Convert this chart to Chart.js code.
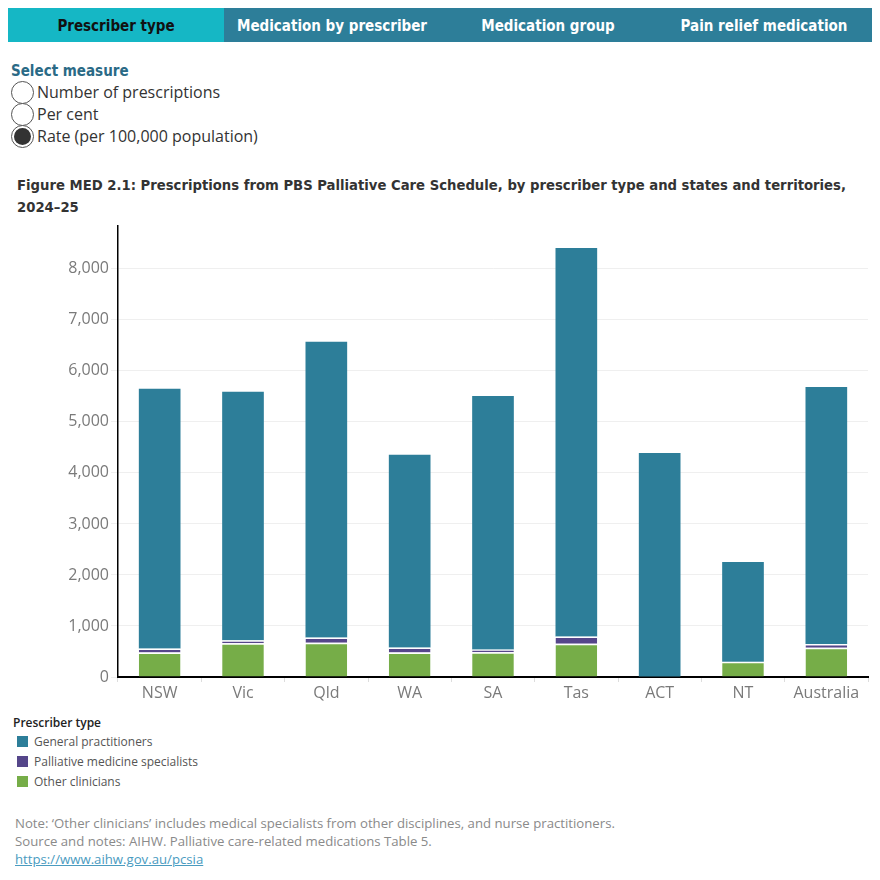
<!DOCTYPE html>
<html>
<head>
<meta charset="utf-8">
<script src="https://cdn.jsdelivr.net/npm/chart.js@4.4.1/dist/chart.umd.min.js"></script>
<style>
    body { margin: 0; width: 880px; height: 880px; background: #fff; position: relative; font-family: "Open Sans", sans-serif; overflow: hidden; }
    .tabs { position: absolute; left: 8px; top: 8px; width: 864px; height: 34px; display: flex; }
    .tab { width: 216px; height: 34px; line-height: 36px; text-align: center; background: #2d7e99; color: #fff;
           font-family: "DejaVu Sans Condensed", sans-serif; font-weight: bold; font-size: 15px; }
    .tab.on { background: #15b7c5; color: #111; }
    .measure { position: absolute; left: 11px; top: 61px; }
    .measure h4 { margin: 0; font-family: "DejaVu Sans Condensed", sans-serif; font-weight: bold; font-size: 15px; color: #2a6a86; line-height: 20px; }
    .opt { height: 22px; line-height: 22px; font-size: 16px; color: #333; position: relative; padding-left: 26px; }
    .opt i { position: absolute; left: 0; top: 0; width: 23px; height: 23px; border: 1px solid #555; border-radius: 50%; box-sizing: border-box; background: #fff; }
    .opt.sel i::after { content: ""; position: absolute; left: 2px; top: 2px; width: 17px; height: 17px; border-radius: 50%; background: #333; }
    .title { position: absolute; left: 17px; top: 174px; width: 860px; font-family: "DejaVu Sans Condensed", sans-serif; font-weight: bold;
             font-size: 14.7px; line-height: 22px; color: #333; }
    #wrap { position: absolute; left: 0; top: 220px; width: 880px; height: 490px; }
    .legend { position: absolute; left: 13px; top: 714px; font-size: 12px; color: #555; }
    .legend b { display: block; font-size: 12px; color: #222; font-weight: 600; margin-bottom: 1px; }
    .legend div { height: 20px; line-height: 20px; position: relative; padding-left: 21px; }
    .legend span { position: absolute; left: 4px; top: 4px; width: 11px; height: 11px; }
    .notes { position: absolute; left: 15px; top: 814px; font-size: 13.2px; line-height: 18px; color: #8a8a8a; }
    .notes a { color: #4a9bbf; }
</style>
</head>
<body>
<div class="tabs">
    <div class="tab on">Prescriber type</div>
    <div class="tab">Medication by prescriber</div>
    <div class="tab">Medication group</div>
    <div class="tab">Pain relief medication</div>
</div>
<div class="measure">
    <h4>Select measure</h4>
    <div class="opt"><i></i>Number of prescriptions</div>
    <div class="opt"><i></i>Per cent</div>
    <div class="opt sel"><i></i>Rate (per 100,000 population)</div>
</div>
<div class="title">Figure MED 2.1: Prescriptions from PBS Palliative Care Schedule, by prescriber type and states and territories, 2024–25</div>
<div id="wrap"><canvas id="chart"></canvas></div>
<div class="legend">
    <b>Prescriber type</b>
    <div><span style="background:#2d7e99"></span>General practitioners</div>
    <div><span style="background:#55468a"></span>Palliative medicine specialists</div>
    <div><span style="background:#76ad48"></span>Other clinicians</div>
</div>
<div class="notes">
    Note: ‘Other clinicians’ includes medical specialists from other disciplines, and nurse practitioners.<br>
    Source and notes: AIHW. Palliative care-related medications Table 5.<br>
    <a href="#">https://www.aihw.gov.au/pcsia</a>
</div>
<script>
// rate per 100,000 population, 2024-25
const states = ['NSW', 'Vic', 'Qld', 'WA', 'SA', 'Tas', 'ACT', 'NT', 'Australia'];
const otherClinicians = [480, 660, 670, 480, 485, 650, 0, 300, 575];
const palliativeSpecialists = [80, 60, 105, 100, 55, 145, 0, 0, 70];
const generalPractitioners = [5090, 4870, 5795, 3775, 4970, 7615, 4390, 1955, 5040];
const yTicks = [0, 1000, 2000, 3000, 4000, 5000, 6000, 7000, 8000];

const sep = { top: 1.5, bottom: 0, left: 0, right: 0 };

new Chart(document.getElementById('chart').getContext('2d'), {
    type: 'bar',
    data: {
        labels: states,
        datasets: [
            { label: 'Other clinicians', data: otherClinicians, backgroundColor: '#76ad48', borderColor: '#fff', borderWidth: sep, borderSkipped: false },
            { label: 'Palliative medicine specialists', data: palliativeSpecialists, backgroundColor: '#55468a', borderColor: '#fff', borderWidth: sep, borderSkipped: false },
            { label: 'General practitioners', data: generalPractitioners, backgroundColor: '#2d7e99', borderWidth: 0 }
        ]
    },
    options: {
        responsive: true,
        maintainAspectRatio: false,
        animation: false,
        layout: { padding: { left: 0, right: 12, top: 6, bottom: 0 } },
        plugins: { legend: { display: false }, tooltip: { enabled: false } },
        datasets: { bar: { categoryPercentage: 1, barPercentage: 0.5 } },
        scales: {
            x: {
                stacked: true,
                afterFit: s => { s.height = 33; },
                border: { color: '#000', width: 2 },
                grid: { drawOnChartArea: false, offset: true, tickLength: 5, color: '#ddd' },
                ticks: { color: '#7a7a7a', font: { family: 'Open Sans', size: 16 }, padding: 2 }
            },
            y: {
                stacked: true,
                min: 0,
                max: 8840,
                afterFit: s => { s.width = 118; s.paddingTop = 0; },
                afterBuildTicks: s => { s.ticks = yTicks.map(v => ({ value: v })); },
                border: { color: '#000', width: 1.5 },
                grid: { color: '#efefef', tickLength: 7 },
                ticks: {
                    color: '#7a7a7a',
                    font: { family: 'Open Sans', size: 16 },
                    padding: 2,
                    callback: v => v.toLocaleString('en-AU')
                }
            }
        }
    }
});
</script>
</body>
</html>
